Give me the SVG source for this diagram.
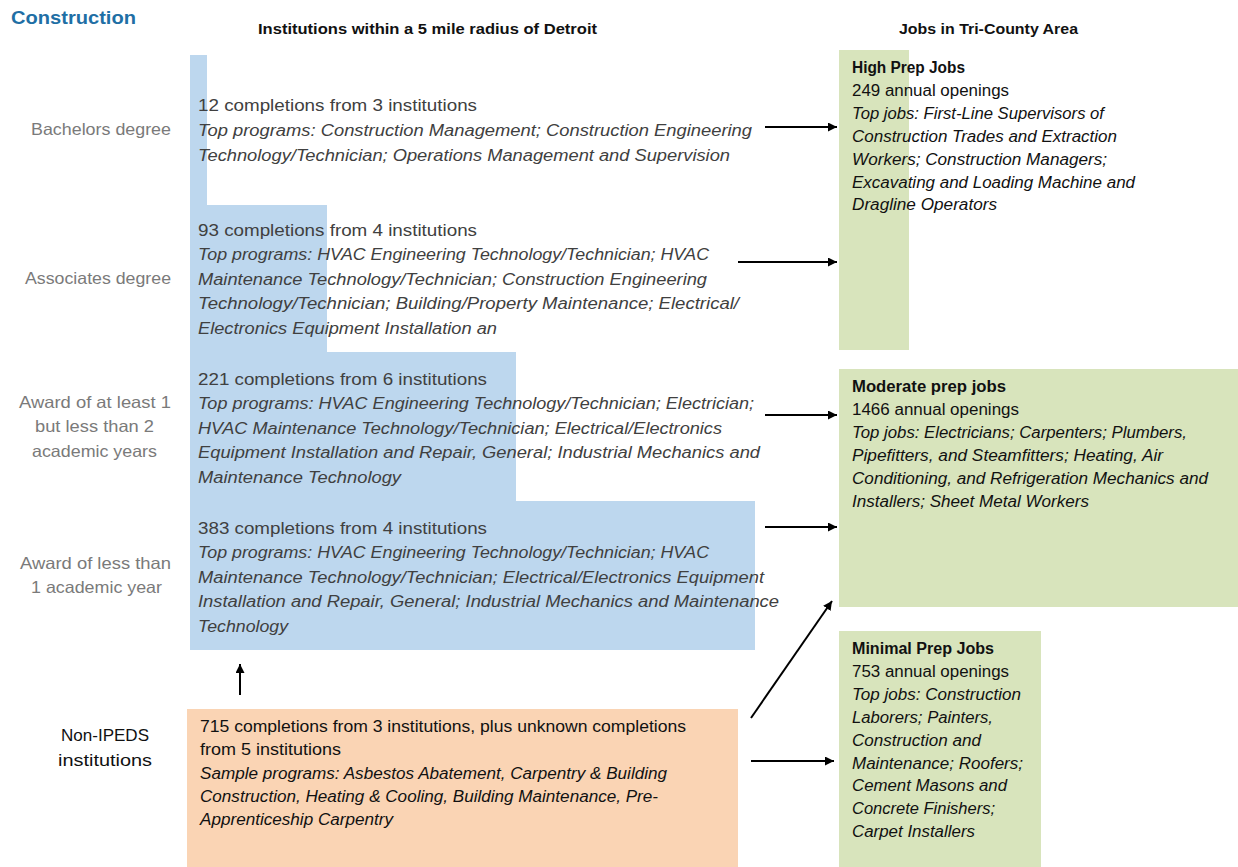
<svg xmlns="http://www.w3.org/2000/svg" width="1238" height="867" viewBox="0 0 1238 867">
<style>
text{font-family:"Liberation Sans",Arial,sans-serif;font-size:16px}
.t{font-size:19px;font-weight:bold;fill:#1f6fa5}
.h{font-weight:bold;font-size:15px;fill:#111}
.lab{fill:#7a7a7a;font-size:16.5px}
.lab2{fill:#111;font-size:16.5px}
.bt{fill:#404040}
.it{font-style:italic}
.gt{fill:#111}
.b{font-weight:bold}
.conn line{stroke:#000;stroke-width:2;marker-end:url(#ah)}
</style>
<defs>
<marker id="ah" viewBox="0 0 10 10" refX="10" refY="5" markerWidth="4.5" markerHeight="4.5" orient="auto" markerUnits="strokeWidth">
<path d="M0,0 L10,5 L0,10 z" fill="#000"/>
</marker>
</defs>
<rect width="1238" height="867" fill="#fff"/>

<g id="headers">
<text class="t" x="11" y="24" textLength="125" lengthAdjust="spacingAndGlyphs">Construction</text>
<text class="h" x="258" y="34" textLength="339" lengthAdjust="spacingAndGlyphs">Institutions within a 5 mile radius of Detroit</text>
<text class="h" x="899" y="34" textLength="179" lengthAdjust="spacingAndGlyphs">Jobs in Tri-County Area</text>
</g>

<g id="level-labels">
<text class="lab" x="31" y="135" textLength="140" lengthAdjust="spacingAndGlyphs">Bachelors degree</text>
<text class="lab" x="25" y="284" textLength="146" lengthAdjust="spacingAndGlyphs">Associates degree</text>
<text class="lab" x="19" y="408" textLength="152" lengthAdjust="spacingAndGlyphs">Award of at least 1</text>
<text class="lab" x="35" y="432" textLength="119" lengthAdjust="spacingAndGlyphs">but less than 2</text>
<text class="lab" x="32" y="457" textLength="125" lengthAdjust="spacingAndGlyphs">academic years</text>
<text class="lab" x="20" y="569" textLength="151" lengthAdjust="spacingAndGlyphs">Award of less than</text>
<text class="lab" x="31" y="593" textLength="131" lengthAdjust="spacingAndGlyphs">1 academic year</text>
<text class="lab2" x="61" y="741" textLength="88" lengthAdjust="spacingAndGlyphs">Non-IPEDS</text>
<text class="lab2" x="58" y="766" textLength="94" lengthAdjust="spacingAndGlyphs">institutions</text>
</g>

<g id="institutions-ipeds">
<polygon points="190,55 207,55 207,205 327,205 327,352 516,352 516,501 755,501 755,650 190,650" fill="#bdd7ee"/>
</g>

<g id="bachelors-programs" class="bt">
<text x="198" y="111" textLength="279" lengthAdjust="spacingAndGlyphs">12 completions from 3 institutions</text>
<text class="it" x="198" y="136" textLength="554" lengthAdjust="spacingAndGlyphs">Top programs: Construction Management; Construction Engineering</text>
<text class="it" x="198" y="160.5" textLength="532" lengthAdjust="spacingAndGlyphs">Technology/Technician; Operations Management and Supervision</text>
</g>

<g id="associates-programs" class="bt">
<text x="198" y="236" textLength="279" lengthAdjust="spacingAndGlyphs">93 completions from 4 institutions</text>
<text class="it" x="198" y="260" textLength="511" lengthAdjust="spacingAndGlyphs">Top programs: HVAC Engineering Technology/Technician; HVAC</text>
<text class="it" x="198" y="285" textLength="509" lengthAdjust="spacingAndGlyphs">Maintenance Technology/Technician; Construction Engineering</text>
<text class="it" x="198" y="309" textLength="541" lengthAdjust="spacingAndGlyphs">Technology/Technician; Building/Property Maintenance; Electrical/</text>
<text class="it" x="198" y="334" textLength="299" lengthAdjust="spacingAndGlyphs">Electronics Equipment Installation an</text>
</g>

<g id="award-1to2-programs" class="bt">
<text x="198" y="385" textLength="289" lengthAdjust="spacingAndGlyphs">221 completions from 6 institutions</text>
<text class="it" x="198" y="409" textLength="556" lengthAdjust="spacingAndGlyphs">Top programs: HVAC Engineering Technology/Technician; Electrician;</text>
<text class="it" x="198" y="434" textLength="524" lengthAdjust="spacingAndGlyphs">HVAC Maintenance Technology/Technician; Electrical/Electronics</text>
<text class="it" x="198" y="458" textLength="562" lengthAdjust="spacingAndGlyphs">Equipment Installation and Repair, General; Industrial Mechanics and</text>
<text class="it" x="198" y="483" textLength="203" lengthAdjust="spacingAndGlyphs">Maintenance Technology</text>
</g>

<g id="award-under1-programs" class="bt">
<text x="198" y="534" textLength="289" lengthAdjust="spacingAndGlyphs">383 completions from 4 institutions</text>
<text class="it" x="198" y="558" textLength="511" lengthAdjust="spacingAndGlyphs">Top programs: HVAC Engineering Technology/Technician; HVAC</text>
<text class="it" x="198" y="583" textLength="566" lengthAdjust="spacingAndGlyphs">Maintenance Technology/Technician; Electrical/Electronics Equipment</text>
<text class="it" x="198" y="607" textLength="581" lengthAdjust="spacingAndGlyphs">Installation and Repair, General; Industrial Mechanics and Maintenance</text>
<text class="it" x="198" y="632" textLength="90" lengthAdjust="spacingAndGlyphs">Technology</text>
</g>

<g id="non-ipeds">
<rect x="187" y="709" width="551" height="158" fill="#fad4b4"/>
<g class="gt">
<text x="200" y="732" textLength="486" lengthAdjust="spacingAndGlyphs">715 completions from 3 institutions, plus unknown completions</text>
<text x="200" y="755" textLength="141" lengthAdjust="spacingAndGlyphs">from 5 institutions</text>
<text class="it" x="200" y="779" textLength="467" lengthAdjust="spacingAndGlyphs">Sample programs: Asbestos Abatement, Carpentry &amp; Building</text>
<text class="it" x="200" y="802" textLength="458" lengthAdjust="spacingAndGlyphs">Construction, Heating &amp; Cooling, Building Maintenance, Pre-</text>
<text class="it" x="200" y="825" textLength="193" lengthAdjust="spacingAndGlyphs">Apprenticeship Carpentry</text>
</g>
</g>

<g id="high-prep-jobs">
<rect x="839" y="50" width="70" height="300" fill="#d8e4bc"/>
<g class="gt">
<text class="b" x="852" y="72.5" textLength="113" lengthAdjust="spacingAndGlyphs">High Prep Jobs</text>
<text x="852" y="95.5" textLength="157" lengthAdjust="spacingAndGlyphs">249 annual openings</text>
<text class="it" x="852" y="118.5" textLength="252" lengthAdjust="spacingAndGlyphs">Top jobs: First-Line Supervisors of</text>
<text class="it" x="852" y="141.5" textLength="265" lengthAdjust="spacingAndGlyphs">Construction Trades and Extraction</text>
<text class="it" x="852" y="164.5" textLength="255" lengthAdjust="spacingAndGlyphs">Workers; Construction Managers;</text>
<text class="it" x="852" y="187.5" textLength="283" lengthAdjust="spacingAndGlyphs">Excavating and Loading Machine and</text>
<text class="it" x="852" y="210" textLength="145" lengthAdjust="spacingAndGlyphs">Dragline Operators</text>
</g>
</g>

<g id="moderate-prep-jobs">
<rect x="839" y="369" width="399" height="238" fill="#d8e4bc"/>
<g class="gt">
<text class="b" x="852" y="392" textLength="154" lengthAdjust="spacingAndGlyphs">Moderate prep jobs</text>
<text x="852" y="415" textLength="167" lengthAdjust="spacingAndGlyphs">1466 annual openings</text>
<text class="it" x="852" y="438" textLength="335" lengthAdjust="spacingAndGlyphs">Top jobs: Electricians; Carpenters; Plumbers,</text>
<text class="it" x="852" y="461" textLength="311" lengthAdjust="spacingAndGlyphs">Pipefitters, and Steamfitters; Heating, Air</text>
<text class="it" x="852" y="484" textLength="356" lengthAdjust="spacingAndGlyphs">Conditioning, and Refrigeration Mechanics and</text>
<text class="it" x="852" y="507" textLength="237" lengthAdjust="spacingAndGlyphs">Installers; Sheet Metal Workers</text>
</g>
</g>

<g id="minimal-prep-jobs">
<rect x="839" y="631" width="202" height="236" fill="#d8e4bc"/>
<g class="gt">
<text class="b" x="852" y="654" textLength="142" lengthAdjust="spacingAndGlyphs">Minimal Prep Jobs</text>
<text x="852" y="677" textLength="157" lengthAdjust="spacingAndGlyphs">753 annual openings</text>
<text class="it" x="852" y="700" textLength="169" lengthAdjust="spacingAndGlyphs">Top jobs: Construction</text>
<text class="it" x="852" y="723" textLength="141" lengthAdjust="spacingAndGlyphs">Laborers; Painters,</text>
<text class="it" x="852" y="746" textLength="129" lengthAdjust="spacingAndGlyphs">Construction and</text>
<text class="it" x="852" y="769" textLength="171" lengthAdjust="spacingAndGlyphs">Maintenance; Roofers;</text>
<text class="it" x="852" y="791" textLength="155" lengthAdjust="spacingAndGlyphs">Cement Masons and</text>
<text class="it" x="852" y="814" textLength="143" lengthAdjust="spacingAndGlyphs">Concrete Finishers;</text>
<text class="it" x="852" y="836.5" textLength="123" lengthAdjust="spacingAndGlyphs">Carpet Installers</text>
</g>
</g>

<g id="connectors" class="conn">
<line x1="765" y1="127" x2="837" y2="127"/>
<line x1="738" y1="262" x2="837" y2="262"/>
<line x1="765" y1="415" x2="837" y2="415"/>
<line x1="765" y1="527" x2="837" y2="527"/>
<line x1="240" y1="695" x2="240" y2="664"/>
<line x1="751" y1="718" x2="832" y2="601"/>
<line x1="751" y1="761" x2="834" y2="761"/>
</g>
</svg>
